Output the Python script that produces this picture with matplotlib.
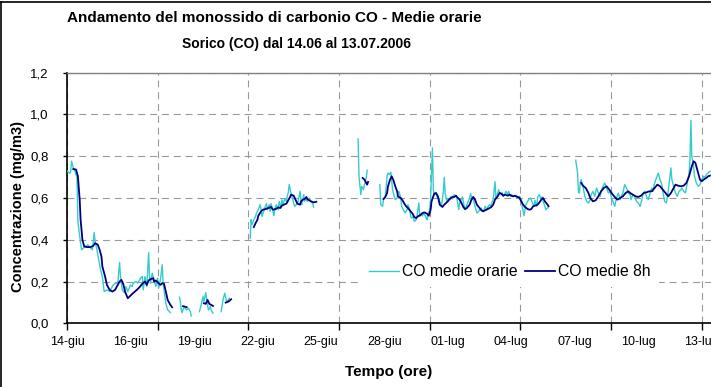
import numpy as np
import matplotlib
matplotlib.use("Agg")
import matplotlib.pyplot as plt
from matplotlib.lines import Line2D

plt.rcParams['font.family'] = ['Liberation Sans', 'DejaVu Sans']
plt.rcParams['lines.scale_dashes'] = False

NA = np.nan

# --- DATA (hour index counted from 14-06-2006 00:00, NA = missing data) ---
ore_orarie = [
    0, 3, 4, 5, 7, 8, 11, 12, 14, 16, 20, 23, 26, 28, 30, 31, 33, 35, 37, 39,
    41, 44, 47, 49, 51, 54, 56, 58, 59, 61, 63, 65, 67, 70, 72, 73, 76, 78, 81, 83,
    84, 86, 88, 90, 91, 92, 94, 96, 98, 100, 101, 103, 105, 106, 107, 109, 111, 112, 114,
    118,
    124, 125, 126, 127, 129, 130, 132, 134, 136, 137,
    141,
    146, 148, 150, 151, 153, 155, 156, 158, 159, 161,
    165,
    170, 172, 174, 176, 178, 179,
    190,
    202, 203, 204, 206, 208, 209, 211, 213, 214, 215, 217, 218, 220, 221, 223, 224,
    225, 227, 228, 230, 231, 233, 234, 236, 237, 238, 240, 242, 243, 244, 245, 247,
    248, 250, 251, 253, 255, 257, 258, 259, 261, 262, 264, 265, 267, 269, 271, 272,
    300,
    321, 322, 324, 325, 327, 328, 330, 331,
    338,
    345, 346, 348, 349, 351, 352, 353, 354, 356, 357, 358, 359, 361, 362, 364, 365,
    366, 368, 369, 371, 372, 373, 375, 376, 378, 379, 380, 382, 383, 385, 386, 388,
    389, 390, 392, 393, 395, 396, 397, 398, 400, 401, 403, 404, 405, 407, 408, 410,
    411, 413, 414, 415, 416, 417, 419, 420, 422, 423, 425, 427, 429, 430, 432, 433,
    435, 436, 438, 439, 441, 442, 444, 445, 447, 448, 449, 451, 452, 454, 455, 457,
    458, 460, 461, 463, 464, 466, 467, 469, 470, 472, 473, 474, 476, 477, 479, 480,
    481, 483, 484, 486, 487, 489, 490, 492, 493, 495, 496, 498, 499, 501, 502, 504,
    505, 506, 508, 509, 511, 512, 514, 515, 516, 518, 519, 521, 522, 524, 525, 527,
    528, 530,
    545,
    561, 563, 564, 565, 566, 567, 569, 570, 571, 573, 575, 577, 578, 580, 582, 584,
    586, 588, 589, 591, 593, 595, 597, 599, 600, 602, 604, 606, 608, 610, 611, 613,
    615, 617, 619, 621, 622, 624, 626, 628, 630, 632, 634, 635, 637, 639, 641, 643,
    645, 646, 648, 650, 652, 654, 656, 657, 659, 661, 663, 665, 666, 667, 669, 671,
    673, 675, 677, 678, 680, 682, 684, 686, 687, 688, 689, 691, 692, 694, 696, 698,
    700, 702, 703, 705, 707, 709,
]
co_orarie = [
    .73, .718, .725, .776, .744, .736, .70, .49, .416, .352, .368, .376, .36, .352, .435, .392, .352, .304, .256, .224,
    .152, .16, .152, .168, .184, .192, .192, .291, .224, .16, .147, .176, .152, .184, .176, .192, .2, .192, .216, .224,
    .16, .224, .176, .339, .224, .192, .24, .208, .176, .216, .168, .208, .28, .192, .16, .096, .064, .061, .051,
    NA,
    .125, .104, .064, .051, .08, .072, .064, .072, .056, .035,
    NA,
    .056, .088, .128, .104, .147, .088, .064, .08, .064, .048,
    NA,
    .056, .112, .144, .104, .112, .12,
    NA,
    .408, .496, .472, .496, .512, .528, .544, .568, .544, .512, .536, .552, .573, .544, .568, .536,
    .573, .544, .515, .56, .568, .544, .584, .552, .592, .568, .595, .584, .611, .624, .664, .624,
    .608, .576, .56, .568, .584, .632, .592, .568, .616, .584, .595, .584, .6, .584, .573, .557,
    NA,
    .883, .704, .616, .656, .64, .664, .696, .733,
    NA,
    .664, .568, .56, .592, .605, .656, .704, .72, .712, .723, .688, .64, .605, .592, .6, .624,
    .632, .6, .56, .544, .536, .528, .544, .568, .544, .512, .504, .512, .488, .496, .515, .576,
    .512, .52, .515, .528, .515, .504, .496, .52, .544, .6, .84, .64, .616, .624, .605, .6,
    .584, .568, .592, .632, .699, .624, .584, .592, .595, .605, .595, .616, .608, .6, .544, .576,
    .595, .605, .56, .544, .568, .579, .6, .621, .592, .605, .576, .544, .528, .536, .544, .552,
    .536, .544, .56, .544, .557, .568, .56, .584, .592, .678, .6, .608, .64, .627, .616, .624,
    .608, .621, .632, .616, .632, .608, .616, .608, .611, .608, .6, .605, .608, .592, .56, .515,
    .544, .568, .584, .592, .6, .592, .568, .56, .589, .56, .605, .616, .6, .605, .584, .56,
    .544, .552,
    NA,
    .781, .72, .627, .624, .672, .688, .656, .632, .608, .584, .576, .592, .616, .632, .608, .648,
    .624, .608, .632, .656, .672, .648, .624, .632, .608, .584, .56, .6, .624, .592, .608, .624,
    .664, .648, .624, .616, .592, .616, .608, .584, .576, .56, .592, .616, .632, .608, .592, .624,
    .648, .632, .672, .696, .72, .688, .664, .632, .584, .576, .632, .704, .744, .688, .656, .624,
    .608, .632, .64, .648, .632, .624, .672, .72, .784, .971, .8, .752, .704, .672, .656, .664,
    .688, .704, .696, .712, .72, .728,
]

ore_8h = [
    7, 10, 12, 14, 15, 17, 19, 22, 26, 29, 31, 34, 36, 38, 39, 42, 44, 47, 50, 53,
    55, 58, 60, 62, 64, 67, 69, 72, 75, 77, 80, 83, 86, 88, 90, 92, 95, 96, 98, 101,
    103, 105, 107, 109, 111, 114, 116,
    120,
    128, 130, 132,
    140,
    151, 153, 155, 157, 159, 161,
    165,
    175, 178, 181,
    190,
    206, 208, 210, 211, 214, 216, 219, 222, 225, 227, 230, 233, 235, 237, 239, 242,
    244, 246, 247, 250, 252, 254, 257, 258, 260, 262, 264, 265, 267, 269, 272, 275,
    300,
    326, 328, 330, 331, 332,
    340,
    349, 351, 353, 354, 356, 358, 360, 362, 364, 365, 368, 370, 372, 374, 376, 379,
    381, 383, 385, 387, 390, 392, 394, 397, 399, 401, 402, 405, 407, 409, 411, 414,
    416, 418, 420, 422, 425, 427, 429, 430, 433, 435, 437, 439, 441, 444, 446, 448,
    450, 452, 455, 457, 459, 461, 464, 466, 468, 470, 472, 475, 477, 479, 481, 483,
    486, 488, 490, 492, 494, 497, 499, 501, 503, 505, 508, 510, 512, 514, 516, 519,
    521, 523, 525, 527, 530, 531,
    545,
    567, 569, 572, 575, 577, 580, 583, 586, 589, 592, 595, 598, 601, 604, 607, 610,
    613, 616, 619, 621, 624, 627, 630, 633, 636, 639, 642, 645, 648, 651, 654, 657,
    660, 663, 666, 669, 671, 674, 677, 680, 683, 686, 689, 691, 693, 696, 698, 700,
    702, 705, 707, 709,
]
co_8h = [
    .739, .736, .704, .592, .496, .40, .368, .365, .365, .371, .384, .376, .352, .32, .272, .224, .184, .16, .152, .16,
    .176, .2, .208, .189, .152, .12, .128, .141, .152, .16, .173, .189, .2, .184, .205, .211, .216, .2, .205, .192,
    .184, .192, .189, .152, .112, .088, .077,
    NA,
    .082, .08, .077,
    NA,
    .096, .093, .112, .093, .088, .083,
    NA,
    .099, .104, .115,
    NA,
    .461, .48, .496, .515, .536, .544, .547, .552, .557, .544, .547, .555, .552, .563, .568, .573,
    .589, .605, .616, .611, .592, .573, .568, .584, .592, .595, .605, .595, .589, .584, .579, .582,
    NA,
    .696, .688, .672, .664, .677,
    NA,
    .595, .605, .624, .656, .685, .704, .685, .656, .632, .608, .6, .589, .573, .56, .552, .536,
    .525, .509, .504, .512, .52, .528, .531, .525, .515, .544, .584, .621, .624, .608, .568, .557,
    .568, .576, .584, .595, .605, .605, .611, .605, .592, .576, .557, .547, .552, .568, .592, .605,
    .592, .568, .552, .541, .536, .541, .547, .552, .557, .568, .592, .608, .624, .621, .611, .616,
    .611, .616, .611, .608, .611, .605, .6, .584, .568, .557, .547, .544, .547, .56, .563, .568,
    .579, .592, .6, .584, .568, .56,
    NA,
    .672, .659, .648, .624, .6, .584, .589, .608, .632, .648, .656, .64, .621, .605, .592, .6,
    .608, .624, .632, .624, .616, .608, .605, .611, .624, .627, .632, .632, .648, .664, .656, .64,
    .624, .608, .624, .648, .664, .659, .656, .659, .672, .704, .752, .776, .768, .72, .688, .68,
    .688, .696, .704, .707,
]

etichette_x = ["14-giu", "16-giu", "19-giu", "22-giu", "25-giu", "28-giu",
               "01-lug", "04-lug", "07-lug", "10-lug", "13-lug"]
pos_etichette_x = [0, 70, 140, 210, 280, 350, 420, 490, 560, 630, 700]
tacche_x = [0, 100, 200, 300, 400, 500, 600, 700]
tacche_y = [0.0, 0.2, 0.4, 0.6, 0.8, 1.0, 1.2]
etichette_y = ["0,0", "0,2", "0,4", "0,6", "0,8", "1,0", "1,2"]

assert len(ore_orarie) == len(co_orarie)
assert len(ore_8h) == len(co_8h)

# --- FIGURE ---
W, H = 711, 387
fig = plt.figure(figsize=(W / 100, H / 100), dpi=100)
# plot area runs past the right edge of the picture (as in the original export)
ax = fig.add_axes([67 / W, (H - 323.3) / H, 652 / W, 250.6 / H])

ax.plot(ore_orarie, co_orarie, color='#33CCCC', lw=1.0, label='CO medie orarie', zorder=3)
ax.plot(ore_8h, co_8h, color='#000080', lw=1.3, label='CO medie 8h', zorder=4)

ax.set_xlim(0, 719)
ax.set_ylim(0, 1.2)

# axes / ticks
ax.set_yticks(tacche_y, etichette_y)
ax.set_xticks(tacche_x, [''] * len(tacche_x))
ax.set_xticks(pos_etichette_x, etichette_x, minor=True)
ax.xaxis.remove_overlapping_locs = False
ax.tick_params(axis='y', direction='out', length=3, width=1, labelsize=9.5, pad=10, colors='black')
ax.tick_params(axis='x', which='major', direction='out', length=5, width=1)
ax.tick_params(axis='x', which='minor', length=0, labelsize=9, pad=9)

for s in ['left', 'bottom']:
    ax.spines[s].set_color('black')
    ax.spines[s].set_linewidth(1.2)
for s in ['top', 'right']:
    ax.spines[s].set_color('#808080')
    ax.spines[s].set_linewidth(1.0)

ax.set_axisbelow(True)
ax.grid(True, which='major', color='#999999', lw=0.8, linestyle=(0, (5, 3.5)))

leg = ax.legend(loc='center', bbox_to_anchor=(0.679, 0.206), ncol=2, fontsize=11.3,
                frameon=True, fancybox=False, framealpha=1, facecolor='white',
                edgecolor='none', handlelength=1.9, handletextpad=0.2,
                columnspacing=0.5, borderpad=0.5)
leg.set_zorder(5)

# titles and axis titles
fig.text(274 / W, 1 - 18 / H, 'Andamento del monossido di carbonio CO - Medie orarie',
         ha='center', va='center', fontsize=11, fontweight='bold')
fig.text(297 / W, 1 - 44 / H, 'Sorico (CO) dal 14.06 al 13.07.2006',
         ha='center', va='center', fontsize=10, fontweight='bold')
fig.text(18 / W, 1 - 206 / H, 'Concentrazione (mg/m3)', rotation=90,
         ha='center', va='center', fontsize=10.5, fontweight='bold')
fig.text(389 / W, 1 - 372 / H, 'Tempo (ore)',
         ha='center', va='center', fontsize=11, fontweight='bold')

# chart area border (left and top visible)
fig.add_artist(Line2D([1.5 / W, 1.5 / W], [0, 1 - 1.5 / H], color='black', lw=1.2,
                      transform=fig.transFigure))
fig.add_artist(Line2D([1.5 / W, 1], [1 - 1.5 / H, 1 - 1.5 / H], color='black', lw=1.2,
                      transform=fig.transFigure))

fig.savefig('out.png', dpi=100)
